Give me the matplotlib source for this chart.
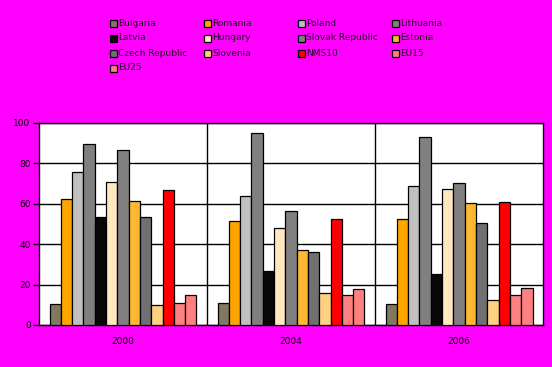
import matplotlib
matplotlib.use("Agg")
import matplotlib.pyplot as plt
from matplotlib.patches import Rectangle
import numpy as np

years = ["2000", "2004", "2006"]
countries = ["Bulgaria", "Romania", "Poland", "Lithuania", "Latvia", "Hungary",
             "Slovak Republic", "Estonia", "Czech Republic", "Slovenia", "NMS10", "EU15", "EU25"]
values = {
    "Bulgaria":        [10.2, 10.7, 10.2],
    "Romania":         [62.3, 51.4, 52.4],
    "Poland":          [75.9, 63.8, 68.8],
    "Lithuania":       [89.8, 95.0, 93.1],
    "Latvia":          [53.6, 26.6, 25.3],
    "Hungary":         [70.9, 47.9, 67.3],
    "Slovak Republic": [86.6, 56.4, 70.2],
    "Estonia":         [61.3, 37.0, 60.3],
    "Czech Republic":  [53.4, 36.0, 50.4],
    "Slovenia":        [9.8, 15.7, 12.2],
    "NMS10":           [66.8, 52.4, 60.8],
    "EU15":            [10.7, 14.7, 14.7],
    "EU25":            [14.7, 17.7, 18.2],
}
colors = {
    "Bulgaria": "#807860", "Romania": "#FFA500", "Poland": "#C0C0C0", "Lithuania": "#808080",
    "Latvia": "#080808", "Hungary": "#FFE8C0", "Slovak Republic": "#808080", "Estonia": "#FFB830",
    "Czech Republic": "#707070", "Slovenia": "#FFD080", "NMS10": "#FF0000", "EU15": "#FF8080",
    "EU25": "#FF8080",
}
yticks = [0, 20, 40, 60, 80, 100]

W, H = 552, 367
fig = plt.figure(figsize=(W/100, H/100), dpi=100, facecolor="#FF00FF")
ax = fig.add_axes([39/W, 1 - 325/H, (543-39)/W, (325-123)/H])
ax.set_facecolor("white")

x = np.arange(len(years))
n = len(countries)
group = 0.875
w = group / n
for i, c in enumerate(countries):
    pos = x - group/2 + w*(i + 0.5)
    ax.bar(pos, values[c], width=w, color=colors[c], edgecolor="black", linewidth=0.9, zorder=3)

ax.set_xlim(-0.5, 2.5)
ax.set_ylim(0, 100)
ax.set_yticks(yticks)
ax.set_yticklabels([str(t) for t in yticks], fontsize=6.5)
ax.yaxis.grid(True, color="black", linewidth=1, zorder=1)
for xv in [0.5, 1.5]:
    ax.axvline(xv, color="black", linewidth=1, zorder=1)
ax.set_xticks(x)
ax.set_xticklabels(years, fontsize=6.5)
ax.tick_params(axis="x", length=0, pad=9)
ax.tick_params(axis="y", length=4, width=1, direction="out", pad=2)
for s in ax.spines.values():
    s.set_linewidth(1)
    s.set_color("black")

# legend laid out in a fixed 4-column grid, row-major like the original
col_x = [110, 204, 298, 392]
row_y = [23, 38, 53, 68]
for k, c in enumerate(countries):
    r, col = divmod(k, 4)
    sx, sy = col_x[col], row_y[r]
    fig.patches.append(Rectangle((sx/W, 1 - (sy + 3.5)/H), 7/W, 7/H,
                                 transform=fig.transFigure, facecolor=colors[c],
                                 edgecolor="black", linewidth=0.9))
    fig.text((sx + 8)/W, 1 - sy/H, c, fontsize=6.5, va="center", ha="left", color="#111111")

fig.savefig("out.png", dpi=100, facecolor=fig.get_facecolor())
